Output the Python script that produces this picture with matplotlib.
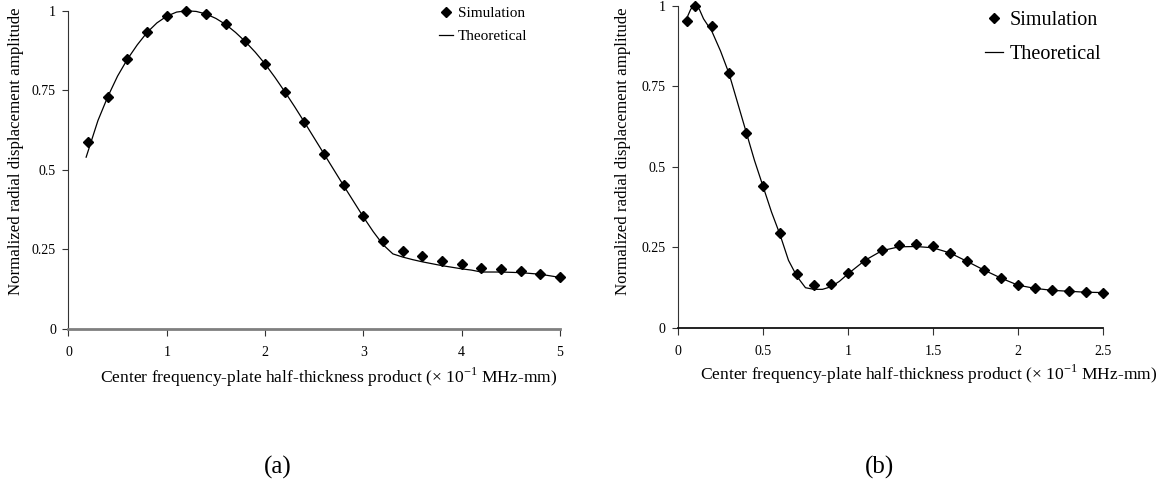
import matplotlib
matplotlib.use("Agg")
import matplotlib.pyplot as plt

plt.rcParams["font.family"] = ["Liberation Serif", "DejaVu Serif"]
plt.rcParams["mathtext.fontset"] = "custom"
plt.rcParams["mathtext.rm"] = "Liberation Serif"

# (a) simulation points and theoretical curve
sim_a_x = [0.2, 0.4, 0.6, 0.8, 1.0, 1.2, 1.4, 1.6, 1.8, 2.0, 2.2, 2.4, 2.6,
           2.8, 3.0, 3.2, 3.4, 3.6, 3.8, 4.0, 4.2, 4.4, 4.6, 4.8, 5.0]
sim_a_y = [0.587, 0.730, 0.847, 0.933, 0.983, 0.999, 0.991, 0.958, 0.904,
           0.832, 0.745, 0.650, 0.551, 0.451, 0.354, 0.278, 0.245, 0.228,
           0.215, 0.203, 0.192, 0.187, 0.181, 0.173, 0.163]
th_a_x = [0.18, 0.3, 0.4, 0.5, 0.6, 0.7, 0.8, 0.9, 1.0, 1.1, 1.2, 1.3, 1.4,
          1.5, 1.6, 1.7, 1.8, 1.9, 2.0, 2.1, 2.2, 2.3, 2.4, 2.5, 2.6, 2.7,
          2.8, 2.9, 3.0, 3.1, 3.2, 3.3, 3.4, 3.5, 3.6, 3.7, 3.8, 3.9, 4.0,
          4.1, 4.2, 4.4, 4.6, 4.8, 5.0]
th_a_y = [0.540, 0.655, 0.730, 0.795, 0.848, 0.893, 0.932, 0.962, 0.983,
          0.996, 1.000, 0.998, 0.990, 0.976, 0.957, 0.932, 0.903, 0.870,
          0.833, 0.791, 0.746, 0.699, 0.650, 0.600, 0.550, 0.500, 0.450,
          0.401, 0.352, 0.306, 0.265, 0.236, 0.226, 0.218, 0.211, 0.205,
          0.199, 0.194, 0.189, 0.185, 0.179, 0.179, 0.177, 0.172, 0.162]

# (b) simulation points and theoretical curve
sim_b_x = [0.05, 0.1, 0.2, 0.3, 0.4, 0.5, 0.6, 0.7, 0.8, 0.9, 1.0, 1.1, 1.2,
           1.3, 1.4, 1.5, 1.6, 1.7, 1.8, 1.9, 2.0, 2.1, 2.2, 2.3, 2.4, 2.5]
sim_b_y = [0.952, 1.000, 0.939, 0.793, 0.605, 0.441, 0.294, 0.168, 0.133,
           0.138, 0.170, 0.209, 0.243, 0.257, 0.262, 0.253, 0.234, 0.209,
           0.181, 0.156, 0.132, 0.123, 0.118, 0.115, 0.112, 0.110]
th_b_x = [0.05, 0.075, 0.1, 0.125, 0.15, 0.2, 0.25, 0.3, 0.35, 0.4, 0.45,
          0.5, 0.55, 0.6, 0.65, 0.7, 0.75, 0.8, 0.85, 0.9, 0.95, 1.0, 1.1,
          1.2, 1.3, 1.4, 1.5, 1.6, 1.7, 1.8, 1.9, 2.0, 2.1, 2.2, 2.3, 2.4, 2.5]
th_b_y = [0.960, 0.990, 1.000, 0.990, 0.960, 0.920, 0.860, 0.790, 0.700,
          0.610, 0.520, 0.440, 0.360, 0.290, 0.210, 0.160, 0.125, 0.120,
          0.120, 0.128, 0.145, 0.168, 0.210, 0.240, 0.252, 0.253, 0.249,
          0.233, 0.207, 0.180, 0.155, 0.133, 0.123, 0.117, 0.114, 0.111, 0.110]

y_ticks = [0, 0.25, 0.5, 0.75, 1]
y_labels = ["0", "0.25", "0.5", "0.75", "1"]
a_ticks = [0, 1, 2, 3, 4, 5]
b_ticks = [0, 0.5, 1, 1.5, 2, 2.5]
b_labels = ["0", "0.5", "1", "1.5", "2", "2.5"]

ylabel = "Normalized radial displacement amplitude"
xlabel = r"Center frequency-plate half-thickness product (× 10$^{\mathrm{-1}}$ MHz-mm)"

fig = plt.figure(figsize=(11.64, 4.91), dpi=100)
ax_a = fig.add_axes([0.0588, 0.330, 0.4223, 0.648])
ax_b = fig.add_axes([0.5825, 0.332, 0.3650, 0.656])


def style(ax, xmax, xticks, xlabels, xcolor, xlw):
    ax.set_xlim(0, xmax)
    ax.set_ylim(0, 1)
    ax.set_xticks(xticks)
    ax.set_xticklabels(xlabels)
    ax.set_yticks(y_ticks)
    ax.set_yticklabels(y_labels)
    for s in ("top", "right"):
        ax.spines[s].set_visible(False)
    ax.spines["left"].set_color("#333333")
    ax.spines["left"].set_linewidth(0.8)
    ax.spines["bottom"].set_color(xcolor)
    ax.spines["bottom"].set_linewidth(xlw)
    ax.tick_params(axis="x", length=5, width=0.8, pad=7, labelsize=10, color="#333333")
    ax.tick_params(axis="y", length=4, width=0.8, pad=5, labelsize=10, color="#333333")


style(ax_a, 5, a_ticks, [str(t) for t in a_ticks], "#7f7f7f", 2.0)
style(ax_b, 2.5, b_ticks, b_labels, "#111111", 1.3)

ax_a.plot(th_a_x, th_a_y, color="black", lw=0.9, label="Theoretical", clip_on=False)
ax_a.plot(sim_a_x, sim_a_y, ls="none", marker="D", ms=4.8, color="black",
          label="Simulation", clip_on=False)
ax_b.plot(th_b_x, th_b_y, color="black", lw=0.9, label="Theoretical", clip_on=False)
ax_b.plot(sim_b_x, sim_b_y, ls="none", marker="D", ms=5.2, color="black",
          label="Simulation", clip_on=False)

ax_a.set_ylabel(ylabel, fontsize=12.2)
ax_a.yaxis.set_label_coords(-0.09, 0.56)
ax_a.set_xlabel(xlabel, fontsize=12.6)
ax_a.xaxis.set_label_coords(0.529, -0.114)
ax_b.set_ylabel(ylabel, fontsize=12.2)
ax_b.yaxis.set_label_coords(-0.11, 0.55)
ax_b.set_xlabel(xlabel, fontsize=12.6)
ax_b.xaxis.set_label_coords(0.59, -0.107)

legend_opts = (
    (ax_a, (0.754, 1.0126), 11, 0.6, 0.92, 0.33),
    (ax_b, (0.722, 0.983), 14.5, 0.74, 0.9, 0.35),
)
for ax, anchor, fs, spacing, hlen, tpad in legend_opts:
    h, l = ax.get_legend_handles_labels()
    ax.legend(h[::-1], l[::-1], loc="upper left", bbox_to_anchor=anchor,
              frameon=False, fontsize=fs, handlelength=hlen, handletextpad=tpad,
              labelspacing=spacing, borderpad=0, borderaxespad=0)

fig.text(0.239, 0.047, "(a)", fontsize=18, ha="center", va="center")
fig.text(0.756, 0.047, "(b)", fontsize=18, ha="center", va="center")

fig.savefig("out.png", dpi=100)
